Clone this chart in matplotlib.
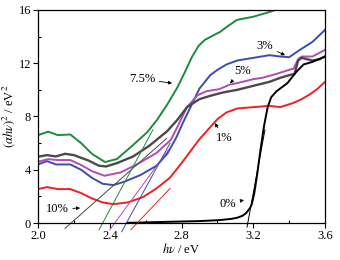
import matplotlib
matplotlib.use("Agg")
import matplotlib.pyplot as plt
from matplotlib.ticker import MultipleLocator

plt.rcParams['font.family'] = ['Liberation Serif', 'DejaVu Serif']
plt.rcParams['mathtext.fontset'] = 'stix'

# curves: photon energy (eV) vs (alpha h nu)^2
x_7p5 = [2.0, 2.056, 2.11, 2.18, 2.24, 2.30, 2.373, 2.44, 2.53, 2.61, 2.663, 2.719, 2.775,
         2.819, 2.858, 2.895, 2.93, 2.965, 3.015, 3.06, 3.109, 3.198, 3.293, 3.349]
y_7p5 = [6.6, 6.86, 6.6, 6.65, 6.0, 5.2, 4.58, 4.81, 5.86, 6.84, 7.74, 8.87, 10.14,
         11.34, 12.47, 13.3, 13.75, 14.0, 14.35, 14.8, 15.25, 15.48, 15.85, 16.15]

x_3 = [2.0, 2.05, 2.1, 2.18, 2.24, 2.30, 2.36, 2.42, 2.48, 2.57, 2.66, 2.72, 2.77, 2.81,
       2.85, 2.90, 2.96, 3.0, 3.05, 3.11, 3.2, 3.29, 3.35, 3.40, 3.46, 3.53, 3.6]
y_3 = [4.4, 4.65, 4.4, 4.4, 4.0, 3.4, 2.95, 2.85, 3.1, 3.6, 4.3, 5.2, 6.4, 7.6,
       8.7, 10.1, 11.1, 11.5, 11.9, 12.2, 12.4, 12.6, 12.5, 12.45, 13.0, 13.6, 14.5]

x_5 = [2.0, 2.056, 2.11, 2.18, 2.24, 2.30, 2.37, 2.46, 2.55, 2.66, 2.74, 2.78, 2.83,
       2.89, 2.94, 3.01, 3.07, 3.11, 3.2, 3.25, 3.33, 3.40, 3.425, 3.45, 3.47, 3.53, 3.6]
y_5 = [4.6, 4.8, 4.73, 4.73, 4.36, 3.9, 3.55, 3.8, 4.4, 5.26, 6.24, 7.3, 8.7,
       9.6, 9.9, 10.05, 10.4, 10.5, 10.8, 10.9, 11.2, 11.5, 11.6, 12.3, 12.5, 12.5, 13.0]

x_10 = [2.0, 2.05, 2.1, 2.15, 2.2, 2.28, 2.34, 2.38, 2.44, 2.53, 2.62, 2.72, 2.78, 2.83,
        2.9, 2.96, 3.03, 3.11, 3.2, 3.29, 3.35, 3.40, 3.43, 3.45, 3.47, 3.53, 3.57, 3.6]
y_10 = [4.98, 5.1, 5.0, 5.2, 5.1, 4.7, 4.3, 4.25, 4.5, 5.0, 5.8, 6.9, 7.8, 8.7,
        9.3, 9.55, 9.8, 10.0, 10.3, 10.6, 10.9, 11.1, 11.2, 12.2, 12.4, 12.2, 12.3, 12.5]

x_1 = [2.0, 2.05, 2.11, 2.18, 2.24, 2.30, 2.36, 2.42, 2.5, 2.585, 2.66, 2.735, 2.8, 2.85,
       2.9, 2.94, 3.0, 3.05, 3.11, 3.2, 3.29, 3.35, 3.42, 3.47, 3.52, 3.56, 3.6]
y_1 = [2.55, 2.7, 2.55, 2.55, 2.25, 1.85, 1.55, 1.42, 1.55, 1.95, 2.6, 3.4, 4.5, 5.4,
       6.3, 6.9, 7.8, 8.3, 8.6, 8.7, 8.8, 8.7, 9.0, 9.3, 9.7, 10.1, 10.6]

x_0 = [2.5, 2.74, 2.9, 3.01, 3.08, 3.11, 3.14, 3.16, 3.18, 3.19, 3.205, 3.22, 3.24, 3.26,
       3.28, 3.30, 3.33, 3.39, 3.44, 3.48, 3.53, 3.6]
y_0 = [0.02, 0.1, 0.15, 0.22, 0.32, 0.4, 0.55, 0.75, 1.1, 1.35, 2.2, 3.5, 5.5, 7.3,
       8.7, 9.45, 9.9, 10.5, 11.35, 11.9, 12.1, 12.5]

# tangent lines (start point, end point)
tan_10 = ([2.15, 2.717], [-0.4, 6.36])
tan_7p5 = ([2.34, 2.64], [-0.5, 7.0])
tan_5 = ([2.40, 2.726], [-0.5, 5.48])
tan_3 = ([2.466, 2.736], [-0.65, 6.0])
tan_1 = ([2.517, 2.736], [-0.5, 2.6])
tan_0 = ([3.165, 3.265], [-0.3, 7.0])

c_green = '#1e8a3e'
c_blue = '#3a4db0'
c_mag = '#b24cb4'
c_gray = '#4a4a4a'
c_red = '#ee2020'
c_black = '#000000'

fig = plt.figure(figsize=(3.4, 2.6), dpi=100)
ax = fig.add_axes([0.112, 0.142, 0.844, 0.82])

lw = 1.4
ax.plot(x_7p5, y_7p5, color=c_green, lw=lw)
ax.plot(x_3, y_3, color=c_blue, lw=lw)
ax.plot(x_5, y_5, color=c_mag, lw=lw)
ax.plot(x_10, y_10, color=c_gray, lw=lw + 0.3)
ax.plot(x_1, y_1, color=c_red, lw=lw)
ax.plot(x_0, y_0, color=c_black, lw=lw)

for t, c in [(tan_10, c_gray), (tan_7p5, c_green), (tan_5, c_mag),
             (tan_3, c_blue), (tan_1, c_red), (tan_0, c_black)]:
    ax.plot(t[0], t[1], color=c, lw=0.7, clip_on=False)

ax.set_xlim(2.0, 3.6)
ax.set_ylim(0, 16)
ax.xaxis.set_major_locator(MultipleLocator(0.4))
ax.xaxis.set_minor_locator(MultipleLocator(0.2))
ax.yaxis.set_major_locator(MultipleLocator(4))
ax.yaxis.set_minor_locator(MultipleLocator(2))
ax.tick_params(which='major', direction='out', length=3.5, width=0.8, labelsize=9, pad=1.5)
ax.tick_params(which='minor', direction='in', length=2.5, width=0.8)
for s in ax.spines.values():
    s.set_linewidth(0.9)

ax.set_xlabel(r'$h\nu$ / eV', fontsize=9, labelpad=0)
ax.set_ylabel(r'$(\alpha h\nu)^2$ / eV$^2$', fontsize=9, labelpad=1)

arr = dict(arrowstyle='-|>', lw=0.6, color='black', mutation_scale=5, shrinkA=1, shrinkB=0)
fs = 9
ax.annotate('7.5%', xy=(2.747, 10.5), xytext=(2.58, 10.8), fontsize=fs, ha='center', va='center', arrowprops=arr)
ax.annotate('3%', xy=(3.377, 12.6), xytext=(3.265, 13.3), fontsize=fs, ha='center', va='center', arrowprops=arr)
ax.annotate('5%', xy=(3.07, 10.5), xytext=(3.14, 11.4), fontsize=fs, ha='center', va='center', arrowprops=arr)
ax.annotate('1%', xy=(2.985, 7.5), xytext=(3.04, 6.4), fontsize=fs, ha='center', va='center', arrowprops=arr)
ax.annotate('0%', xy=(3.148, 1.73), xytext=(3.06, 1.43), fontsize=fs, ha='center', va='center', arrowprops=arr)
ax.annotate('10%', xy=(2.234, 1.13), xytext=(2.106, 1.05), fontsize=fs, ha='center', va='center', arrowprops=arr)

fig.savefig('out.png', dpi=100)
